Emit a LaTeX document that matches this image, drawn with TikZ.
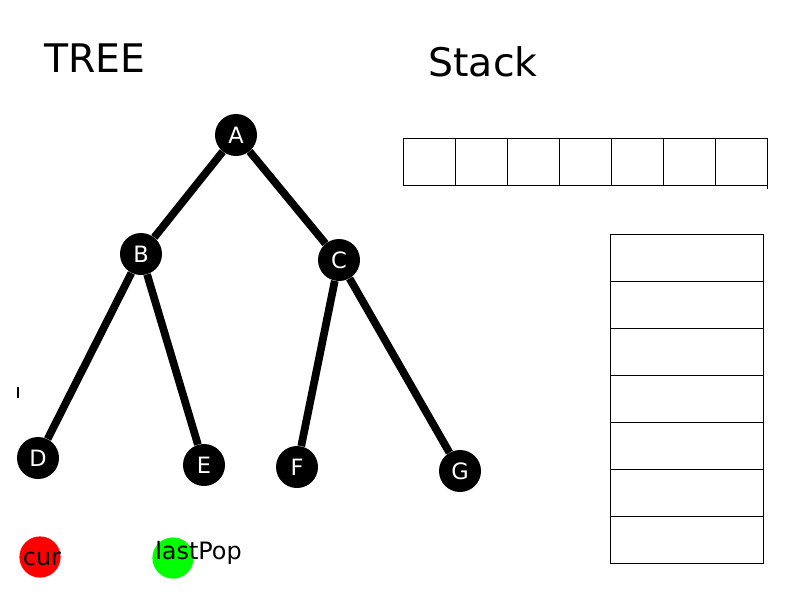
\documentclass[tikz,border=0pt]{standalone}
\usepackage{fontspec}
\setmainfont{DejaVu Sans}
\usetikzlibrary{positioning}

\begin{document}
\begin{tikzpicture}
[x=0.025cm, y=-0.025cm,
tree-node/.style={circle, fill=black, text=white, inner sep=0pt, minimum size = 10.5mm, font=\fontsize{16}{16}\selectfont},
tree-edge/.style={line width=5.5pt},
mark-node/.style={circle, inner sep=0pt, minimum size = 10.3mm},
cell-h/.style={rectangle, draw, line width=0.7pt, inner sep=0pt, outer sep=0pt, minimum width=13mm, minimum height=11.75mm},
cell-v/.style={rectangle, draw, line width=0.7pt, inner sep=0pt, outer sep=0pt, minimum width=38.25mm, minimum height=11.75mm},
text-a/.style={font=\fontsize{28}{28}\selectfont},
text-b/.style={font=\fontsize{17}{17}\selectfont, inner sep=0pt},]
\useasboundingbox [fill=white] (0,0) rectangle (800,600);
\node (title-tree)  [text-a] at (95,58)   {TREE};
\node (title-stack) [text-a] at (483,62)  {Stack};
% tree
\node (node-a) [tree-node] at (236,135) {A};
\node (node-b) [tree-node] at (141,254) {B};
\node (node-c) [tree-node] at (339,260) {C};
\node (node-d) [tree-node] at (38,458)  {D};
\node (node-e) [tree-node] at (204,465) {E};
\node (node-f) [tree-node] at (297,467) {F};
\node (node-g) [tree-node] at (460,471) {G};
\draw [tree-edge] (node-a) -- (node-b);
\draw [tree-edge] (node-a) -- (node-c);
\draw [tree-edge] (node-b) -- (node-d);
\draw [tree-edge] (node-b) -- (node-e);
\draw [tree-edge] (node-c) -- (node-f);
\draw [tree-edge] (node-c) -- (node-g);
\draw [line width=1.2pt] (18,387) -- (18,398);
% markers
\node (mark-cur)  [mark-node, fill=red]          at (40,557)  {};
\node (text-cur)  [text-b] at (42,559) {cur};
\node (mark-last) [mark-node, fill=green]        at (173,558) {};
\node (text-last) [text-b, anchor=west] at (155,553) {lastPop};
% stack, horizontal
\node (cell-1) [cell-h, anchor=north west] at (403,138) {};
\node (cell-2) [cell-h, right = 0cm of cell-1] {};
\node (cell-3) [cell-h, right = 0cm of cell-2] {};
\node (cell-4) [cell-h, right = 0cm of cell-3] {};
\node (cell-5) [cell-h, right = 0cm of cell-4] {};
\node (cell-6) [cell-h, right = 0cm of cell-5] {};
\node (cell-7) [cell-h, right = 0cm of cell-6] {};
\coordinate (tick-end) at ([yshift=-1mm]cell-7.south east);
\draw [line width=0.7pt] (cell-7.south east) -- (tick-end);
% stack, vertical
\node (row-1) [cell-v, anchor=north west] at (610,234) {};
\node (row-2) [cell-v, below = 0cm of row-1] {};
\node (row-3) [cell-v, below = 0cm of row-2] {};
\node (row-4) [cell-v, below = 0cm of row-3] {};
\node (row-5) [cell-v, below = 0cm of row-4] {};
\node (row-6) [cell-v, below = 0cm of row-5] {};
\node (row-7) [cell-v, below = 0cm of row-6] {};
\end{tikzpicture}
\end{document}
